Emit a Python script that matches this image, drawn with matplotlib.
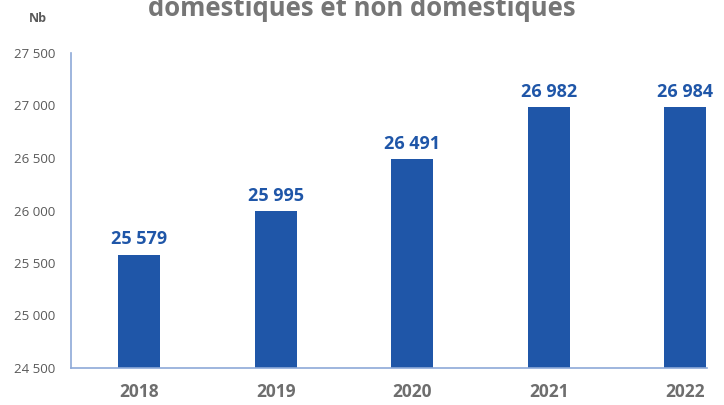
import matplotlib.pyplot as plt
from matplotlib.ticker import FuncFormatter

years = ['2018', '2019', '2020', '2021', '2022']
values = [25579, 25995, 26491, 26982, 26984]
y_ticks = [24500, 25000, 25500, 26000, 26500, 27000, 27500]

bar_color = '#1F56A8'
grey = '#6E6E6E'

plt.rcParams['font.family'] = ['Open Sans', 'DejaVu Sans']

fig = plt.figure(figsize=(7.24, 4.05), dpi=100)
ax = fig.add_axes([71 / 724, 1 - 368 / 405, (707 - 71) / 724, (368 - 53) / 405])

x = range(len(years))
bars = ax.bar(x, values, width=0.31, color=bar_color, zorder=2)

def fmt(v, pos=None):
    return f'{int(v):,}'.replace(',', ' ')

for b, v in zip(bars, values):
    ax.text(b.get_x() + b.get_width() / 2, v + 60, fmt(v), ha='center', va='bottom',
            color=bar_color, fontsize=13, fontweight='bold')

ax.set_ylim(24500, 27500)
ax.set_xlim(-0.5, 4.16)
ax.set_yticks(y_ticks)
ax.yaxis.set_major_formatter(FuncFormatter(fmt))
ax.set_xticks(list(x))
ax.set_xticklabels(years, fontsize=12.5, fontweight='bold', color=grey)
ax.tick_params(axis='y', length=0, labelsize=9.5, labelcolor='#595959', pad=11)
ax.tick_params(axis='x', length=0, pad=11)

for s in ['top', 'right']:
    ax.spines[s].set_visible(False)
for s in ['left', 'bottom']:
    ax.spines[s].set_color('#8EA9D8')
    ax.spines[s].set_linewidth(1.2)

fig.text(38 / 724, 1 - 18 / 405, 'Nb', ha='center', va='center', fontsize=9,
         fontweight='bold', color='#595959')
fig.text(0.5, 1 - 9 / 405, 'domestiques et non domestiques', ha='center', va='center',
         fontsize=18.5, fontweight='bold', color='#767676')

fig.savefig('out.png', dpi=100)
